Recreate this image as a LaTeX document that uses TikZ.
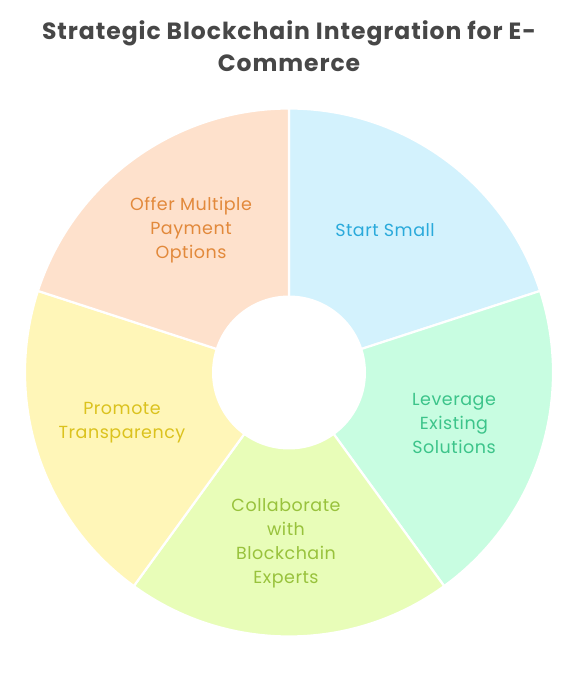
\documentclass[tikz,border=0pt]{standalone}
\usepackage{fontspec}
\setmainfont{Poppins}
\usepackage{tikz}
\usetikzlibrary{calc}
\definecolor{SmallFill}{HTML}{D3F2FD}
\definecolor{SmallText}{HTML}{2AAADB}
\definecolor{LeverFill}{HTML}{C8FDE1}
\definecolor{LeverText}{HTML}{3CC48A}
\definecolor{CollabFill}{HTML}{E8FDB8}
\definecolor{CollabText}{HTML}{98C23C}
\definecolor{PromoFill}{HTML}{FFF6B8}
\definecolor{PromoText}{HTML}{DBC21E}
\definecolor{OfferFill}{HTML}{FEE1CC}
\definecolor{OfferText}{HTML}{E2893B}
\definecolor{TitleText}{HTML}{474747}

\begin{document}
\begin{tikzpicture}[x=1pt,y=1pt,
        wedge/.style={draw=white, line width=2.2pt, line join=round},
        label/.style={align=center, font=\fontsize{17.5}{24}\selectfont\addfontfeature{LetterSpace=3}, inner sep=0pt}]
            \useasboundingbox (0,0) rectangle (579,686);
            \coordinate (c) at (289,313.5);
            % slices, clockwise from the top
            \filldraw [wedge, fill=SmallFill]  (c) -- ++(18:264)   arc (18:90:264)    -- cycle;  % start small
            \filldraw [wedge, fill=LeverFill]  (c) -- ++(-54:264)  arc (-54:18:264)   -- cycle;  % leverage
            \filldraw [wedge, fill=CollabFill] (c) -- ++(-126:264) arc (-126:-54:264) -- cycle;  % collaborate
            \filldraw [wedge, fill=PromoFill]  (c) -- ++(162:264)  arc (162:234:264)  -- cycle;  % promote
            \filldraw [wedge, fill=OfferFill]  (c) -- ++(90:264)   arc (90:162:264)   -- cycle;  % offer
            % hole
            \fill [white] (c) circle (77);
            % texts
            \node [label, text=SmallText]  (small)   at (385,456) {Start Small};
            \node [label, text=LeverText]  (lever)   at (454,263) {Leverage\\Existing\\Solutions};
            \node [label, text=CollabText] (collab)  at (286,143) {Collaborate\\with\\Blockchain\\Experts};
            \node [label, text=PromoText]  (promo)   at (122,263) {Promote\\Transparency};
            \node [label, text=OfferText]  (offer)   at (191,456) {Offer Multiple\\Payment\\Options};
            \node [align=center, text=TitleText, inner sep=0pt,
                   font=\fontsize{23.5}{32}\selectfont\bfseries\addfontfeature{LetterSpace=4}] (title) at (289,640)
                   {Strategic Blockchain Integration for E-\\Commerce};
        \end{tikzpicture}
\end{document}
